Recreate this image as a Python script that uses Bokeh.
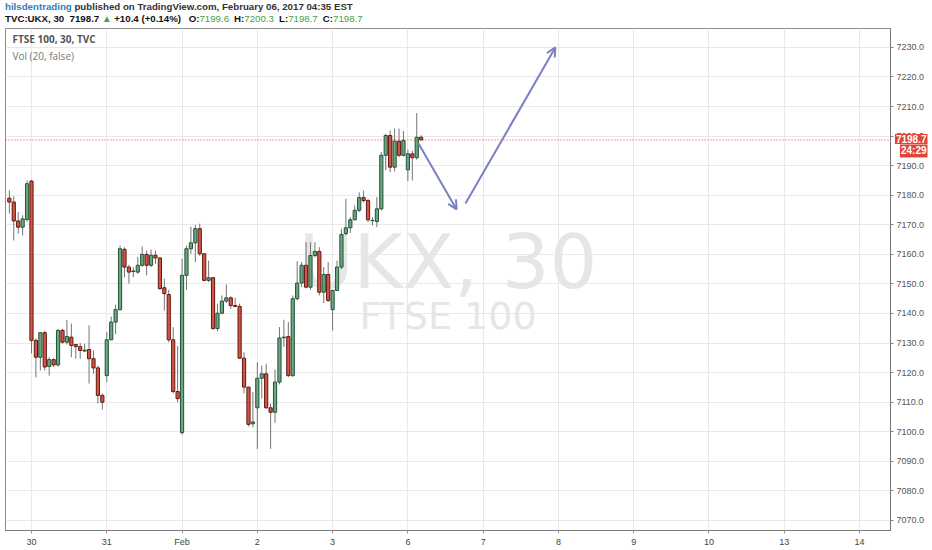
from bokeh.plotting import figure
from bokeh.models import (ColumnDataSource, FixedTicker, NumeralTickFormatter, Span,
                          Label, Arrow, OpenHead, Range1d, Div)
from bokeh.embed import file_html
from bokeh.resources import INLINE

# ---------------- data (FTSE 100, 30-minute bars) ----------------
opens = [7179.0, 7177.7, 7171.3, 7169.2, 7171.8, 7184.8, 7130.9, 7125.2, 7133.5, 7122.1,
         7124.4, 7122.6, 7134.3, 7130.3, 7132.0, 7129.5, 7128.8, 7127.3, 7127.8, 7124.7,
         7121.6, 7112.3, 7119.0, 7131.1, 7137.1, 7141.3, 7161.7, 7155.7, 7154.2, 7154.0,
         7156.3, 7160.0, 7156.3, 7159.7, 7158.8, 7148.7, 7146.4, 7131.1, 7113.6, 7099.7,
         7152.9, 7161.9, 7163.9, 7168.7, 7160.2, 7151.2, 7152.1, 7134.9, 7140.1, 7144.2,
         7145.3, 7142.7, 7142.4, 7124.9, 7115.1, 7102.7, 7108.1, 7118.1, 7119.6, 7108.1,
         7106.6, 7116.8, 7131.8, 7132.2, 7119.0, 7145.0, 7150.3, 7156.3, 7148.9, 7159.6,
         7161.0, 7147.2, 7153.2, 7141.3, 7147.8, 7155.7, 7167.0, 7169.0, 7171.7, 7174.9,
         7179.2, 7178.2, 7171.4, 7171.1, 7175.4, 7193.5, 7200.2, 7189.5, 7198.3, 7193.5,
         7188.6, 7194.0, 7192.7, 7199.6]
highs = [7181.6, 7179.6, 7174.3, 7173.2, 7185.0, 7185.2, 7131.6, 7133.5, 7134.2, 7125.2,
         7124.8, 7134.8, 7134.8, 7137.9, 7136.6, 7129.8, 7130.0, 7129.8, 7136.0, 7127.5,
         7122.4, 7112.9, 7133.7, 7139.0, 7143.0, 7163.0, 7162.4, 7156.5, 7155.7, 7159.1,
         7162.7, 7161.3, 7161.6, 7161.3, 7158.9, 7151.8, 7148.0, 7135.4, 7129.0, 7158.5,
         7163.0, 7169.4, 7170.0, 7170.4, 7160.3, 7157.9, 7152.3, 7143.3, 7146.1, 7149.8,
         7145.8, 7145.3, 7143.3, 7126.9, 7115.2, 7113.4, 7123.5, 7122.4, 7123.0, 7109.5,
         7121.0, 7135.4, 7137.9, 7137.1, 7146.1, 7157.7, 7157.4, 7164.1, 7164.1, 7164.1,
         7162.4, 7155.7, 7157.4, 7148.0, 7157.9, 7168.7, 7178.8, 7172.6, 7176.5, 7181.0,
         7181.6, 7178.8, 7172.6, 7179.4, 7194.6, 7200.8, 7201.9, 7202.5, 7202.5, 7201.7,
         7195.4, 7195.0, 7207.8, 7200.3]
lows = [7173.8, 7164.7, 7167.0, 7166.4, 7171.0, 7126.5, 7118.4, 7120.7, 7120.7, 7119.0,
        7121.9, 7122.0, 7129.8, 7129.5, 7125.2, 7124.7, 7124.7, 7127.0, 7116.3, 7119.6,
        7109.6, 7107.5, 7116.8, 7131.0, 7133.0, 7141.0, 7152.3, 7150.1, 7152.3, 7153.4,
        7155.7, 7152.9, 7155.7, 7156.8, 7148.0, 7141.0, 7130.3, 7113.0, 7110.0, 7099.0,
        7148.0, 7160.2, 7157.4, 7159.5, 7150.9, 7150.6, 7134.5, 7134.0, 7139.7, 7143.5,
        7141.6, 7142.1, 7124.7, 7113.0, 7101.8, 7101.5, 7094.2, 7111.2, 7107.8, 7094.2,
        7103.0, 7116.0, 7128.7, 7118.5, 7118.5, 7144.5, 7148.9, 7148.5, 7148.0, 7159.0,
        7146.1, 7143.5, 7143.9, 7134.3, 7147.6, 7155.0, 7166.5, 7167.2, 7171.5, 7174.3,
        7177.5, 7170.9, 7169.8, 7169.2, 7174.9, 7188.4, 7187.8, 7188.0, 7192.9, 7193.1,
        7184.8, 7185.0, 7192.0, 7198.7]
closes = [7177.7, 7171.3, 7169.2, 7172.0, 7183.9, 7130.9, 7125.2, 7133.5, 7121.9, 7124.4,
          7122.6, 7134.3, 7130.3, 7132.2, 7129.2, 7128.8, 7127.5, 7127.6, 7124.7, 7121.6,
          7112.3, 7110.0, 7131.1, 7137.1, 7141.3, 7161.9, 7155.7, 7154.0, 7154.4, 7156.3,
          7160.0, 7156.3, 7159.7, 7158.8, 7148.4, 7146.7, 7131.1, 7113.6, 7111.2, 7152.9,
          7161.9, 7163.9, 7168.7, 7160.2, 7151.2, 7152.1, 7134.9, 7140.1, 7144.2, 7145.3,
          7142.7, 7142.4, 7124.9, 7115.1, 7102.5, 7103.3, 7118.1, 7119.6, 7108.1, 7106.6,
          7116.8, 7131.7, 7132.0, 7119.0, 7145.0, 7150.3, 7156.3, 7148.9, 7159.6, 7161.0,
          7147.2, 7153.2, 7144.4, 7147.8, 7155.7, 7166.7, 7169.0, 7171.7, 7174.9, 7179.2,
          7178.2, 7171.7, 7171.5, 7175.4, 7193.5, 7200.2, 7189.5, 7198.3, 7193.5, 7198.5,
          7194.0, 7192.7, 7199.6, 7198.7]

day_ticks = [5, 22, 39, 56, 73, 90, 107, 124, 141, 158, 175, 192]
day_labels = ["30", "31", "Feb", "2", "3", "6", "7", "8", "9", "10", "13", "14"]
price_ticks = [7070, 7080, 7090, 7100, 7110, 7120, 7130, 7140, 7150, 7160,
               7170, 7180, 7190, 7200, 7210, 7220, 7230]

# hand-drawn forecast arrows (bar index, price)
arrow_x_start = [92.4, 103.0]
arrow_y_start = [7197.5, 7177.2]
arrow_x_end = [101.0, 123.3]
arrow_y_end = [7175.2, 7230.0]

countdown = "24:29"
header_user = "hilsdentrading"
header_pub = "published on TradingView.com, February 06, 2017 04:35 EST"
symbol = "TVC:UKX, 30"
change_txt = "+10.4 (+0.14%)"
ohlc_names = ["O:", "H:", "L:", "C:"]
ohlc_vals = ["7199.6", "7200.3", "7198.7", "7198.7"]

# ---------------- header (multi-coloured text lines, laid over the top band) ----------------
green = "#3fa34a"
parts2 = "".join(
    f'<span style="margin-left:5px">{n}</span><span style="color:{green};font-weight:normal">{v}</span>'
    for n, v in zip(ohlc_names, ohlc_vals))
html = (
    '<div style="font-family:\'Liberation Sans\',Arial;font-size:9.7px;font-weight:bold;color:#333;'
    'line-height:12px;padding:1px 0 0 5px;white-space:nowrap">'
    f'<div><span style="color:#2b7fc2">{header_user}</span> {header_pub}</div>'
    f'<div style="color:#111">{symbol}&nbsp; {closes[-1]:.1f} '
    f'<span style="color:{green}">\u25b2</span> {change_txt} {parts2}</div>'
    '</div>')
header = Div(text=html, width=700, height=27, margin=(0, 0, 0, 0),
             styles={"position": "absolute", "top": "0px", "left": "0px", "z-index": "100"})

# ---------------- figure ----------------
X0, X1 = -0.87, 198.99
Y0, Y1 = 7066.6, 7236.4

p = figure(width=932, height=550, output_backend="svg", toolbar_location=None,
           x_range=Range1d(X0, X1), y_range=Range1d(Y0, Y1),
           y_axis_location="right", margin=(0, 0, 0, 0),
           min_border_left=5, min_border_top=28, min_border_bottom=20, min_border_right=42)
p.background_fill_color = "white"
p.border_fill_color = "white"
p.outline_line_color = "#8c8c8c"

# axes
p.yaxis.ticker = FixedTicker(ticks=price_ticks)
p.yaxis.formatter = NumeralTickFormatter(format="0.0")
p.yaxis.major_label_text_font = "Liberation Sans"
p.yaxis.major_label_text_font_size = "9px"
p.yaxis.major_label_text_color = "#555555"
p.yaxis.major_tick_out = 3
p.yaxis.major_tick_in = 0
p.yaxis.minor_tick_line_color = None
p.yaxis.axis_line_color = "#777777"
p.yaxis.major_tick_line_color = "#888888"
p.yaxis.major_label_standoff = 3

p.xaxis.ticker = FixedTicker(ticks=day_ticks)
p.xaxis.major_label_text_font = "Liberation Sans"
p.xaxis.major_label_text_font_size = "9px"
p.xaxis.major_label_text_color = "#444444"
p.xaxis.major_tick_out = 3
p.xaxis.major_tick_in = 0
p.xaxis.minor_tick_line_color = None
p.xaxis.axis_line_color = "#777777"
p.xaxis.major_tick_line_color = "#999999"
p.xaxis.major_label_standoff = 3
p.xaxis.major_label_overrides = {t: l for t, l in zip(day_ticks, day_labels)}

p.xgrid.ticker = FixedTicker(ticks=day_ticks)
p.xgrid.grid_line_color = "#e9e9e9"
p.ygrid.grid_line_color = "#e9e9e9"

# watermark
xmid = (X0 + X1) / 2
p.add_layout(Label(x=xmid, y=7157.3, text="UKX, 30", text_align="center", text_baseline="middle",
                   text_font="DejaVu Sans", text_font_size="75px", text_color="#e6e6e6", level="underlay"))
p.add_layout(Label(x=xmid, y=7139.0, text="FTSE 100", text_align="center", text_baseline="middle",
                   text_font="DejaVu Sans", text_font_size="38px", text_color="#e6e6e6", level="underlay"))

# candles
idx = list(range(len(opens)))
up = [i for i in idx if closes[i] >= opens[i]]
dn = [i for i in idx if closes[i] < opens[i]]

def src(sel):
    return ColumnDataSource(dict(
        x=sel,
        top=[max(opens[i], closes[i]) for i in sel],
        bottom=[min(opens[i], closes[i]) for i in sel],
        high=[highs[i] for i in sel],
        low=[lows[i] for i in sel]))

s_up, s_dn = src(up), src(dn)
for s in (s_up, s_dn):
    p.segment(x0="x", y0="high", x1="x", y1="low", source=s, line_color="#737375", line_width=1)
p.vbar(x="x", width=0.72, top="top", bottom="bottom", source=s_up,
       fill_color="#6ba583", line_color="#225437", line_width=1)
p.vbar(x="x", width=0.72, top="top", bottom="bottom", source=s_dn,
       fill_color="#d75442", line_color="#5b1a13", line_width=1)

# last price line
last = closes[-1]
p.add_layout(Span(location=last, dimension="width", line_color="#e0413a",
                  line_dash="1 2", line_width=1))

# forecast arrows
for xs, ys, xe, ye in zip(arrow_x_start, arrow_y_start, arrow_x_end, arrow_y_end):
    p.add_layout(Arrow(end=OpenHead(size=9, line_color="#7b80c4", line_width=2),
                       x_start=xs, y_start=ys, x_end=xe, y_end=ye,
                       line_color="#7b80c4", line_width=2))

# price box / countdown on the right scale; kept in the (otherwise empty) top side panel so that
# they are not clipped to the pane
box_style = dict(text_font="Liberation Sans", text_font_size="10px", text_font_style="bold",
                 text_color="white", background_fill_color="#e0453a", padding=1,
                 text_baseline="middle", text_align="right")
p.add_layout(Label(x=X1, y=last, x_offset=37, y_offset=1, text=f"{last:.1f}", **box_style), "above")
p.add_layout(Label(x=X1, y=last, x_offset=37, y_offset=-11, text=countdown, **box_style), "above")

# legend inside the pane
p.add_layout(Label(x=7, x_units="screen", y=Y1, y_offset=-10, text="FTSE 100, 30, TVC",
                   text_baseline="middle", text_font="Open Sans", text_font_size="10px",
                   text_font_style="bold", text_color="#555555"))
p.add_layout(Label(x=7, x_units="screen", y=Y1, y_offset=-27, text="Vol (20, false)",
                   text_baseline="middle", text_font="Open Sans", text_font_size="10px",
                   text_color="#777777"))

open("out.html", "w").write(file_html([p, header], INLINE))
